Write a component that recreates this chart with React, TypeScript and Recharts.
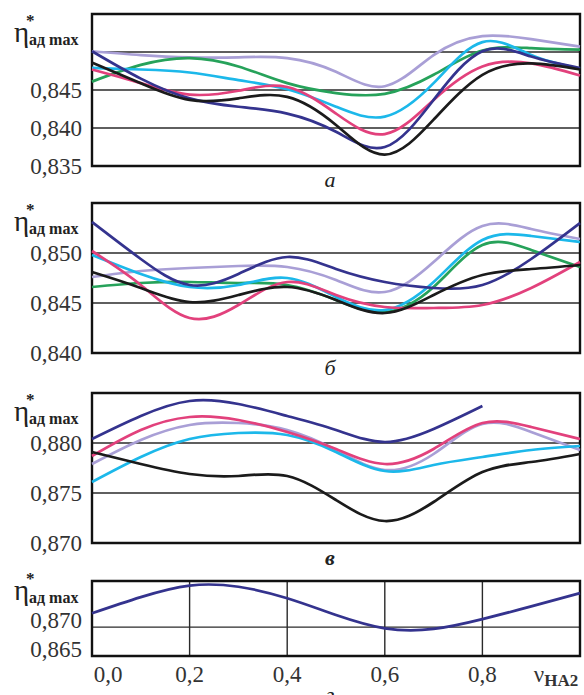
import React from "react";
import {
  LineChart,
  Line,
  XAxis,
  YAxis,
  CartesianGrid,
  ReferenceArea,
} from "recharts";

// x values (ν_НА2)
const nu = [0, 0.1, 0.2, 0.3, 0.4, 0.5, 0.6, 0.7, 0.8, 0.9, 1.0];

// panel а
const aLavender = [0.8501, 0.8496, 0.8493, 0.8493, 0.8492, 0.8474, 0.8455, 0.8496, 0.8521, 0.8517, 0.8507];
const aCyan = [0.8479, 0.8477, 0.8473, 0.8463, 0.8451, 0.8428, 0.8415, 0.8459, 0.8513, 0.8496, 0.8478];
const aGreen = [0.8461, 0.8483, 0.8492, 0.8481, 0.8459, 0.8446, 0.8445, 0.847, 0.8502, 0.8505, 0.8503];
const aNavy = [0.8501, 0.8465, 0.8439, 0.8428, 0.8419, 0.8395, 0.8375, 0.8437, 0.8501, 0.8494, 0.8479];
const aMagenta = [0.8477, 0.8459, 0.8444, 0.8449, 0.8454, 0.8419, 0.8392, 0.8437, 0.8481, 0.8485, 0.8469];
const aBlack = [0.8486, 0.8459, 0.8437, 0.8439, 0.8441, 0.8404, 0.8365, 0.8411, 0.847, 0.8485, 0.8477];

// panel б
const bNavy = [0.8531, 0.8494, 0.8468, 0.8479, 0.8496, 0.8484, 0.8471, 0.8465, 0.8468, 0.8494, 0.853];
const bLavender = [0.8476, 0.8482, 0.8485, 0.8487, 0.8486, 0.8473, 0.8461, 0.8491, 0.8527, 0.8524, 0.8514];
const bCyan = [0.8498, 0.8479, 0.8466, 0.8468, 0.8475, 0.8456, 0.8443, 0.8471, 0.8513, 0.8517, 0.8511];
const bGreen = [0.8466, 0.847, 0.8471, 0.847, 0.8468, 0.8453, 0.8441, 0.8466, 0.8508, 0.8503, 0.8486];
const bMagenta = [0.8502, 0.8468, 0.8435, 0.8448, 0.8471, 0.8458, 0.8446, 0.8445, 0.8448, 0.8465, 0.8491];
const bBlack = [0.8481, 0.8465, 0.8451, 0.8458, 0.8466, 0.8453, 0.844, 0.8458, 0.8478, 0.8484, 0.8488];

// panel в
const vNavy = [0.8804, 0.8827, 0.8842, 0.8839, 0.8827, 0.8813, 0.8801, 0.8814, 0.8837, null, null];
const vMagenta = [0.8787, 0.8813, 0.8826, 0.8823, 0.8811, 0.8794, 0.8779, 0.8794, 0.882, 0.8816, 0.8804];
const vLavender = [0.8779, 0.8803, 0.8818, 0.882, 0.8813, 0.8793, 0.8773, 0.8789, 0.8819, 0.8811, 0.8793];
const vCyan = [0.8761, 0.8786, 0.8804, 0.881, 0.8808, 0.8791, 0.8772, 0.8778, 0.8786, 0.8793, 0.8797];
const vBlack = [0.8791, 0.8779, 0.8769, 0.8767, 0.8767, 0.8743, 0.8722, 0.8741, 0.8771, 0.8781, 0.8789];

// panel г
const gNavy = [0.8724, 0.8752, 0.8772, 0.877, 0.875, 0.8721, 0.8698, 0.8697, 0.8714, 0.8736, 0.8759];

const xTicks = [0, 0.2, 0.4, 0.6, 0.8, 1];

const COLORS: Record<string, string> = {
  lavender: "#a99fd6",
  cyan: "#1cb8ea",
  green: "#26a25a",
  navy: "#34338e",
  magenta: "#e2417c",
  black: "#1b1b1b",
};

const SERIF = "'Liberation Serif', 'DejaVu Serif', serif";

type Series = { key: string; values: (number | null)[] };

const build = (series: Series[]) =>
  nu.map((x, i) => {
    const row: Record<string, number | null> = { x };
    series.forEach((s) => {
      row[s.key] = s.values[i];
    });
    return row;
  });

const fmt = (v: number) => v.toFixed(3).replace(".", ",");

const makeEta = (shift: number) => (props: any) => {
  const top = props.viewBox.y + shift;
  return (
    <g>
      <text x={14} y={top + 28} fontFamily={SERIF} fontSize={29} fill="#222">
        η
      </text>
      <text x={26} y={top + 12} fontFamily={SERIF} fontSize={17} fontWeight="bold" fill="#222">
        *
      </text>
      <text x={29} y={top + 31} fontFamily={SERIF} fontSize={16} fontWeight="bold" fill="#222">
        ад max
      </text>
    </g>
  );
};

interface PanelProps {
  top: number;
  height: number;
  boxTop: number;
  boxBottom: number;
  domain: [number, number];
  yTicks: number[];
  labelled: number[];
  series: Series[];
  showX?: boolean;
  labelDy?: number;
  etaShift?: number;
}

const Panel: React.FC<PanelProps> = ({
  top,
  height,
  boxTop,
  boxBottom,
  domain,
  yTicks,
  labelled,
  series,
  showX,
  labelDy = 0,
  etaShift = 0,
}) => {
  const data = build(series);
  const below = top + height - boxBottom;
  const Eta = makeEta(etaShift);
  const YTick = (p: any) => {
    const v = p.payload.value;
    if (!labelled.some((l) => Math.abs(l - v) < 1e-6)) return <g />;
    return (
      <text
        x={p.x}
        y={p.y + labelDy}
        dy={8}
        textAnchor="end"
        fontFamily={SERIF}
        fontSize={23}
        fill="#333"
      >
        {fmt(v)}
      </text>
    );
  };
  const XTick = (p: any) => {
    const v = p.payload.value;
    if (v === 1) {
      return (
        <text x={p.x - 24} y={p.y + 18} textAnchor="middle" fontFamily={SERIF} fill="#333">
          <tspan fontSize={23}>ν</tspan>
          <tspan fontSize={17} fontWeight="bold" dy={4}>
            НА2
          </tspan>
        </text>
      );
    }
    return (
      <text
        x={p.x + (v === 0 ? 16 : 0)}
        y={p.y + 18}
        textAnchor="middle"
        fontFamily={SERIF}
        fontSize={23}
        fill="#333"
      >
        {v.toFixed(1).replace(".", ",")}
      </text>
    );
  };
  return (
    <div style={{ position: "absolute", left: 0, top, width: 584, height }}>
      <LineChart
        width={584}
        height={height}
        data={data}
        margin={{ top: boxTop - top, right: 4, bottom: showX ? 0 : below, left: 0 }}
      >
        <CartesianGrid stroke="#2a2a2a" strokeWidth={1.4} />
        <XAxis
          dataKey="x"
          type="number"
          domain={[0, 1]}
          ticks={xTicks}
          height={showX ? below : 0}
          axisLine={false}
          tickLine={false}
          tick={showX ? XTick : false}
          interval={0}
        />
        <YAxis
          type="number"
          domain={domain}
          ticks={yTicks}
          width={92}
          axisLine={false}
          tickLine={false}
          tickSize={0}
          tickMargin={10}
          tick={YTick}
          interval={0}
          allowDataOverflow
          label={<Eta />}
        />
        {series.map((s) => (
          <Line
            key={s.key}
            dataKey={s.key}
            type="natural"
            stroke={COLORS[s.key]}
            strokeWidth={2.7}
            dot={false}
            isAnimationActive={false}
            connectNulls={false}
          />
        ))}
        <ReferenceArea
          x1={0}
          x2={1}
          y1={domain[0]}
          y2={domain[1]}
          fill="none"
          stroke="#111"
          strokeWidth={2.4}
          ifOverflow="visible"
        />
      </LineChart>
    </div>
  );
};

const caption = (text: string, top: number, bold = false): React.ReactNode => (
  <div
    style={{
      position: "absolute",
      left: 318,
      top,
      width: 24,
      textAlign: "center",
      fontFamily: SERIF,
      fontStyle: "italic",
      fontWeight: bold ? "bold" : "normal",
      fontSize: 22,
      color: "#222",
      lineHeight: "22px",
    }}
  >
    {text}
  </div>
);

export default function App() {
  return (
    <div
      style={{
        position: "absolute",
        left: 0,
        top: 0,
        width: 584,
        height: 695,
        background: "#fff",
        overflow: "hidden",
      }}
    >
      <Panel
        top={0}
        height={180}
        boxTop={14}
        boxBottom={166}
        domain={[0.835, 0.855]}
        yTicks={[0.835, 0.84, 0.845, 0.85, 0.855]}
        labelled={[0.835, 0.84, 0.845]}
        series={[
          { key: "lavender", values: aLavender },
          { key: "green", values: aGreen },
          { key: "cyan", values: aCyan },
          { key: "magenta", values: aMagenta },
          { key: "navy", values: aNavy },
          { key: "black", values: aBlack },
        ]}
      />
      {caption("а", 169)}
      <Panel
        top={189}
        height={178}
        boxTop={203}
        boxBottom={353}
        domain={[0.84, 0.855]}
        yTicks={[0.84, 0.845, 0.85, 0.855]}
        labelled={[0.84, 0.845, 0.85]}
        series={[
          { key: "lavender", values: bLavender },
          { key: "green", values: bGreen },
          { key: "cyan", values: bCyan },
          { key: "magenta", values: bMagenta },
          { key: "navy", values: bNavy },
          { key: "black", values: bBlack },
        ]}
      />
      {caption("б", 357)}
      <Panel
        top={379}
        height={178}
        boxTop={393}
        boxBottom={543}
        domain={[0.87, 0.885]}
        yTicks={[0.87, 0.875, 0.88, 0.885]}
        labelled={[0.87, 0.875, 0.88]}
        series={[
          { key: "lavender", values: vLavender },
          { key: "cyan", values: vCyan },
          { key: "magenta", values: vMagenta },
          { key: "navy", values: vNavy },
          { key: "black", values: vBlack },
        ]}
      />
      {caption("в", 547, true)}
      <Panel
        top={567}
        height={128}
        boxTop={581}
        boxBottom={656}
        domain={[0.865, 0.878]}
        yTicks={[0.865, 0.87, 0.878]}
        labelled={[0.865, 0.87]}
        labelDy={-7}
        etaShift={-9}
        showX
        series={[{ key: "navy", values: gNavy }]}
      />
      {caption("г", 684)}
    </div>
  );
}
